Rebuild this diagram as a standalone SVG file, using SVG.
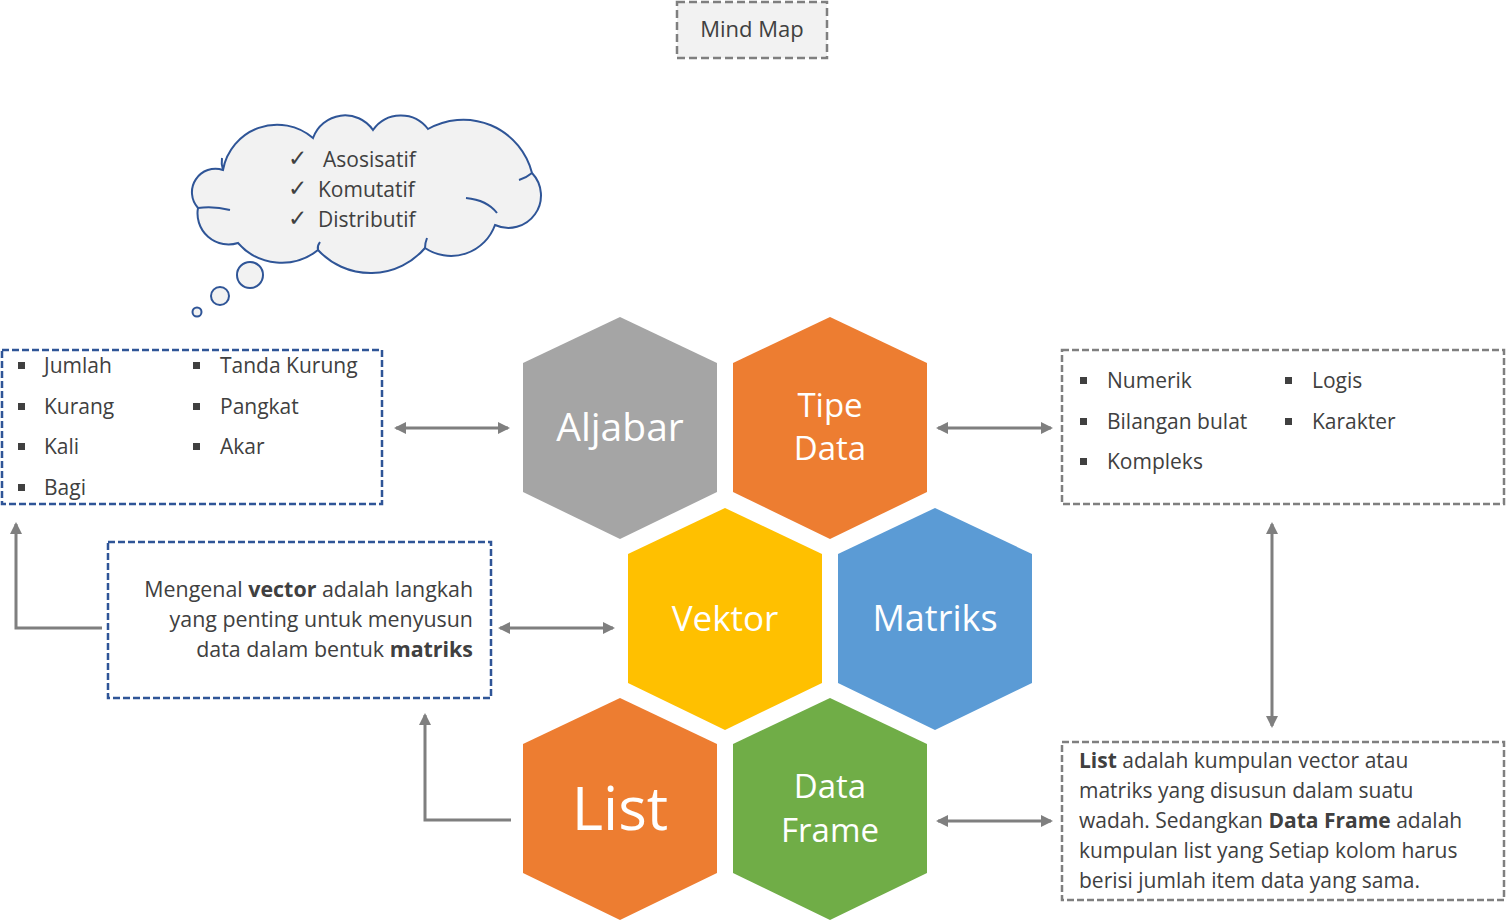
<svg xmlns="http://www.w3.org/2000/svg" width="1506" height="924" viewBox="0 0 1506 924">
<defs>
<style>
.t{font-family:"Open Sans","Noto Sans",sans-serif;fill:#404040;font-size:21px}
.h{font-family:"Open Sans","Noto Sans",sans-serif;fill:#fff;text-anchor:middle}
.conn{stroke:#7f7f7f;stroke-width:3;fill:none}
.bd{fill:#fff;stroke:#2f5597;stroke-width:2.5;stroke-dasharray:7 3}
.gd{fill:#fff;stroke:#7f7f7f;stroke-width:2.5;stroke-dasharray:7 3}
.b{font-weight:700}
.bul{fill:#404040}
.cl{fill:#f2f2f2;stroke:#2f5597;stroke-width:2}
.cli{fill:none;stroke:#2f5597;stroke-width:2}
.ck{font-family:"DejaVu Sans",sans-serif;fill:#404040;font-size:23px}
</style>
<marker id="ah" viewBox="0 0 12 12" refX="10" refY="6" markerWidth="12" markerHeight="12" markerUnits="userSpaceOnUse" orient="auto-start-reverse"><path d="M0,0L12,6L0,12z" fill="#7f7f7f"/></marker>
<polygon id="hex" points="0,-111 97,-65 97,64 0,111 -97,64 -97,-65"/>
</defs>

<g id="title">
<rect x="677" y="2" width="150" height="56" fill="#f2f2f2" stroke="#7f7f7f" stroke-width="2.5" stroke-dasharray="8 4"/>
<text class="t" x="752" y="37" text-anchor="middle" style="font-size:22px">Mind Map</text>
</g>

<g id="cloud">
<path class="cl" d="M223,170 A55,55 0 0 1 313,138 A34,34 0 0 1 373,130 A34,34 0 0 1 428,129 A71,71 0 0 1 532,173 A32.5,32.5 0 0 1 495,225 A46.7,46.7 0 0 1 425,248 A71.6,71.6 0 0 1 318,250 A58,58 0 0 1 238,243 A31,31 0 0 1 198,208 A23.5,23.5 0 0 1 223,170 Z"/>
<path class="cli" d="M223,170 Q221,164 222,158"/>
<path class="cli" d="M532,173 Q526,178 519,180"/>
<path class="cli" d="M466,198 Q487,200 497,213"/>
<path class="cli" d="M425,248 Q425,243 427,238"/>
<path class="cli" d="M318,250 Q317,246 320,242"/>
<path class="cli" d="M198,208 Q214,206 230,210"/>
<circle class="cl" cx="250" cy="275" r="13"/>
<circle class="cl" cx="220" cy="296" r="9"/>
<circle class="cl" cx="197" cy="312" r="4.5"/>
<text class="ck" x="288" y="166">✓</text>
<text class="ck" x="288" y="196">✓</text>
<text class="ck" x="288" y="226">✓</text>
<text class="t" x="323" y="167">Asosisatif</text>
<text class="t" x="318" y="197">Komutatif</text>
<text class="t" x="318" y="227">Distributif</text>
</g>

<g id="box-aljabar">
<rect class="bd" x="2" y="350" width="380" height="154"/>
<rect class="bul" x="18" y="362" width="7" height="7"/>
<rect class="bul" x="18" y="403" width="7" height="7"/>
<rect class="bul" x="18" y="443" width="7" height="7"/>
<rect class="bul" x="18" y="484" width="7" height="7"/>
<rect class="bul" x="193" y="362" width="7" height="7"/>
<rect class="bul" x="193" y="403" width="7" height="7"/>
<rect class="bul" x="193" y="443" width="7" height="7"/>
<text class="t" x="44" y="373">Jumlah</text>
<text class="t" x="44" y="414">Kurang</text>
<text class="t" x="44" y="454">Kali</text>
<text class="t" x="44" y="495">Bagi</text>
<text class="t" x="220" y="373">Tanda Kurung</text>
<text class="t" x="220" y="414">Pangkat</text>
<text class="t" x="220" y="454">Akar</text>
</g>

<g id="box-tipedata">
<rect class="gd" x="1062" y="350" width="442" height="154"/>
<rect class="bul" x="1080" y="377" width="7" height="7"/>
<rect class="bul" x="1080" y="418" width="7" height="7"/>
<rect class="bul" x="1080" y="458" width="7" height="7"/>
<rect class="bul" x="1285" y="377" width="7" height="7"/>
<rect class="bul" x="1285" y="418" width="7" height="7"/>
<text class="t" x="1107" y="388">Numerik</text>
<text class="t" x="1107" y="429">Bilangan bulat</text>
<text class="t" x="1107" y="469">Kompleks</text>
<text class="t" x="1312" y="388">Logis</text>
<text class="t" x="1312" y="429">Karakter</text>
</g>

<g id="box-vektor">
<rect class="bd" x="108" y="542" width="383" height="156"/>
<text class="t" x="473" y="597" text-anchor="end" style="font-size:21.4px">Mengenal <tspan class="b">vector</tspan> adalah langkah</text>
<text class="t" x="473" y="627" text-anchor="end" style="font-size:21.4px">yang penting untuk menyusun</text>
<text class="t" x="473" y="657" text-anchor="end" style="font-size:21.4px">data dalam bentuk <tspan class="b">matriks</tspan></text>
</g>

<g id="box-list">
<rect class="gd" x="1062" y="742" width="442" height="158"/>
<text class="t" x="1079" y="768"><tspan class="b">List</tspan> adalah kumpulan vector atau</text>
<text class="t" x="1079" y="798">matriks yang disusun dalam suatu</text>
<text class="t" x="1079" y="828">wadah. Sedangkan <tspan class="b">Data Frame</tspan> adalah</text>
<text class="t" x="1079" y="858">kumpulan list yang Setiap kolom harus</text>
<text class="t" x="1079" y="888">berisi jumlah item data yang sama.</text>
</g>

<g id="hex-aljabar">
<use href="#hex" x="620" y="428" fill="#a5a5a5"/>
<text class="h" x="620" y="441" font-size="39">Aljabar</text>
</g>
<g id="hex-tipedata">
<use href="#hex" x="830" y="428" fill="#ed7d31"/>
<text class="h" x="830" y="417" font-size="33">Tipe</text>
<text class="h" x="830" y="460" font-size="33">Data</text>
</g>
<g id="hex-vektor">
<use href="#hex" x="725" y="619" fill="#ffc000"/>
<text class="h" x="725" y="631" font-size="35">Vektor</text>
</g>
<g id="hex-matriks">
<use href="#hex" x="935" y="619" fill="#5b9bd5"/>
<text class="h" x="935" y="631" font-size="36">Matriks</text>
</g>
<g id="hex-list">
<use href="#hex" x="620" y="809" fill="#ed7d31"/>
<text class="h" x="620" y="830" font-size="60">List</text>
</g>
<g id="hex-dataframe">
<use href="#hex" x="830" y="809" fill="#70ad47"/>
<text class="h" x="830" y="798" font-size="33">Data</text>
<text class="h" x="830" y="842" font-size="33">Frame</text>
</g>

<g id="connectors">
<path class="conn" d="M396,428 H508" marker-start="url(#ah)" marker-end="url(#ah)"/>
<path class="conn" d="M938,428 H1051" marker-start="url(#ah)" marker-end="url(#ah)"/>
<path class="conn" d="M500,628 H613" marker-start="url(#ah)" marker-end="url(#ah)"/>
<path class="conn" d="M938,821 H1051" marker-start="url(#ah)" marker-end="url(#ah)"/>
<path class="conn" d="M1272,524 V726" marker-start="url(#ah)" marker-end="url(#ah)"/>
<path class="conn" d="M102,628 H16 V524" marker-end="url(#ah)"/>
<path class="conn" d="M511,820 H425 V715" marker-end="url(#ah)"/>
</g>
</svg>
